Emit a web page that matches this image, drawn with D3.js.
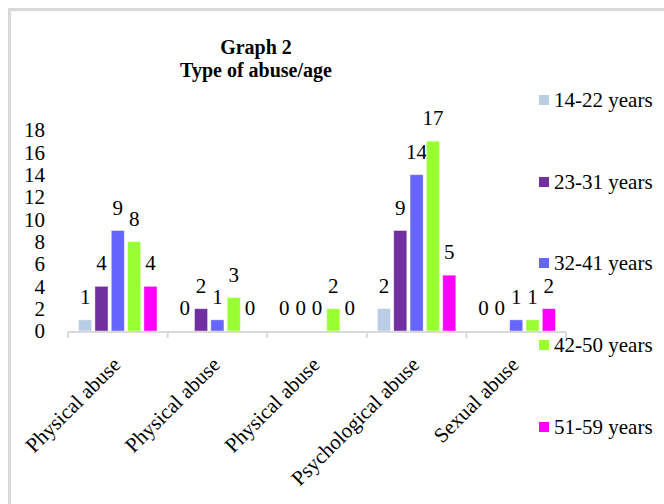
<!DOCTYPE html>
<html>
<head>
<meta charset="utf-8">
<script src="https://cdn.jsdelivr.net/npm/d3@7"></script>
<style>
  html, body { margin: 0; padding: 0; background: #fff; }
  svg { display: block; }
</style>
</head>
<body>
<svg id="chart" width="664" height="504" font-family="'Liberation Serif', 'Times New Roman', serif"></svg>
<script>
const categories = ["Physical abuse", "Physical abuse", "Physical abuse", "Psychological abuse", "Sexual abuse"];
const seriesNames = ["14-22 years", "23-31 years", "32-41 years", "42-50 years", "51-59 years"];
const seriesColors = ["#b9cde5", "#7030a0", "#6666ff", "#99ff33", "#ff00ff"];
const s14_22 = [1, 0, 0, 2, 0];
const s23_31 = [4, 2, 0, 9, 0];
const s32_41 = [9, 1, 0, 14, 1];
const s42_50 = [8, 3, 2, 17, 1];
const s51_59 = [4, 0, 0, 5, 2];
const yTicks = [0, 2, 4, 6, 8, 10, 12, 14, 16, 18];
const titleLines = ["Graph 2", "Type of abuse/age"];

const series = [s14_22, s23_31, s32_41, s42_50, s51_59];

const FONT = "'Liberation Serif', 'Times New Roman', serif";
const FS = "21px";
const svg = d3.select("#chart");
const W = 664, H = 504;
const plot = { left: 68, right: 566, top: 130, bottom: 331 };

// frame
svg.append("rect").attr("x", 9.5).attr("y", 9.5).attr("width", W + 10).attr("height", H + 10)
  .attr("fill", "none").attr("stroke", "#d9d9d9").attr("stroke-width", 3);

// title
const title = svg.append("text").attr("text-anchor", "middle")
  .style("font-family", FONT).style("font-weight", "bold").style("font-size", "20px");
title.append("tspan").attr("x", 256).attr("y", 54).text(titleLines[0]);
title.append("tspan").attr("x", 256).attr("y", 77).text(titleLines[1]);

const idx = d3.range(categories.length);
const x0 = d3.scaleBand().domain(idx).range([plot.left, plot.right]).paddingInner(0).paddingOuter(0);
const x1 = d3.scaleBand().domain(d3.range(series.length))
  .range([0, x0.bandwidth()]).paddingInner(0.2).paddingOuter(0.65);
const y = d3.scaleLinear().domain([0, 18]).range([plot.bottom, plot.top]);

// y tick labels
svg.append("g").selectAll("text").data(yTicks).join("text")
  .attr("x", 45).attr("y", d => y(d)).attr("dy", "0.35em")
  .attr("text-anchor", "end").style("font-family", FONT).style("font-size", FS).text(d => d);

// bars
series.forEach((vals, si) => {
  const g = svg.append("g");
  g.selectAll("rect").data(vals).join("rect")
    .attr("x", (d, i) => x0(i) + x1(si))
    .attr("y", d => y(d))
    .attr("width", x1.bandwidth())
    .attr("height", d => y(0) - y(d))
    .attr("fill", seriesColors[si])
    .attr("stroke", d => d > 0 ? "#ffffff" : "none")
    .attr("stroke-opacity", 0.5)
    .attr("stroke-width", 0.8);
  g.selectAll("text").data(vals).join("text")
    .attr("x", (d, i) => x0(i) + x1(si) + x1.bandwidth() / 2)
    .attr("y", d => y(d) - 16)
    .attr("text-anchor", "middle").style("font-family", FONT).style("font-size", FS)
    .text(d => d);
});

// x axis
const ax = svg.append("g").attr("transform", `translate(0,${plot.bottom + 1})`);
ax.append("line").attr("x1", plot.left).attr("x2", plot.right)
  .attr("stroke", "#d9d9d9").attr("stroke-width", 2);
const tickPos = idx.map(i => x0(i)).concat([plot.right]);
ax.selectAll("line.tk").data(tickPos).join("line").attr("class", "tk")
  .attr("x1", d => d).attr("x2", d => d).attr("y1", 0).attr("y2", 6)
  .attr("stroke", "#d9d9d9").attr("stroke-width", 2);

// category labels rotated
svg.append("g").selectAll("text").data(idx).join("text")
  .attr("transform", i => `translate(${x0(i) + x0.bandwidth() / 2 + 4},${plot.bottom + 35}) rotate(-45)`)
  .attr("text-anchor", "end").style("font-family", FONT).style("font-size", FS)
  .text(i => categories[i]);

// legend
const legendY = [100, 182, 263, 345, 427];
const lg = svg.append("g");
seriesNames.forEach((n, i) => {
  lg.append("rect").attr("x", 539).attr("y", legendY[i] - 5).attr("width", 10).attr("height", 10)
    .attr("fill", seriesColors[i]);
  lg.append("text").attr("x", 554).attr("y", legendY[i]).attr("dy", "0.35em")
    .style("font-family", FONT).style("font-size", FS).text(n);
});
</script>
</body>
</html>
